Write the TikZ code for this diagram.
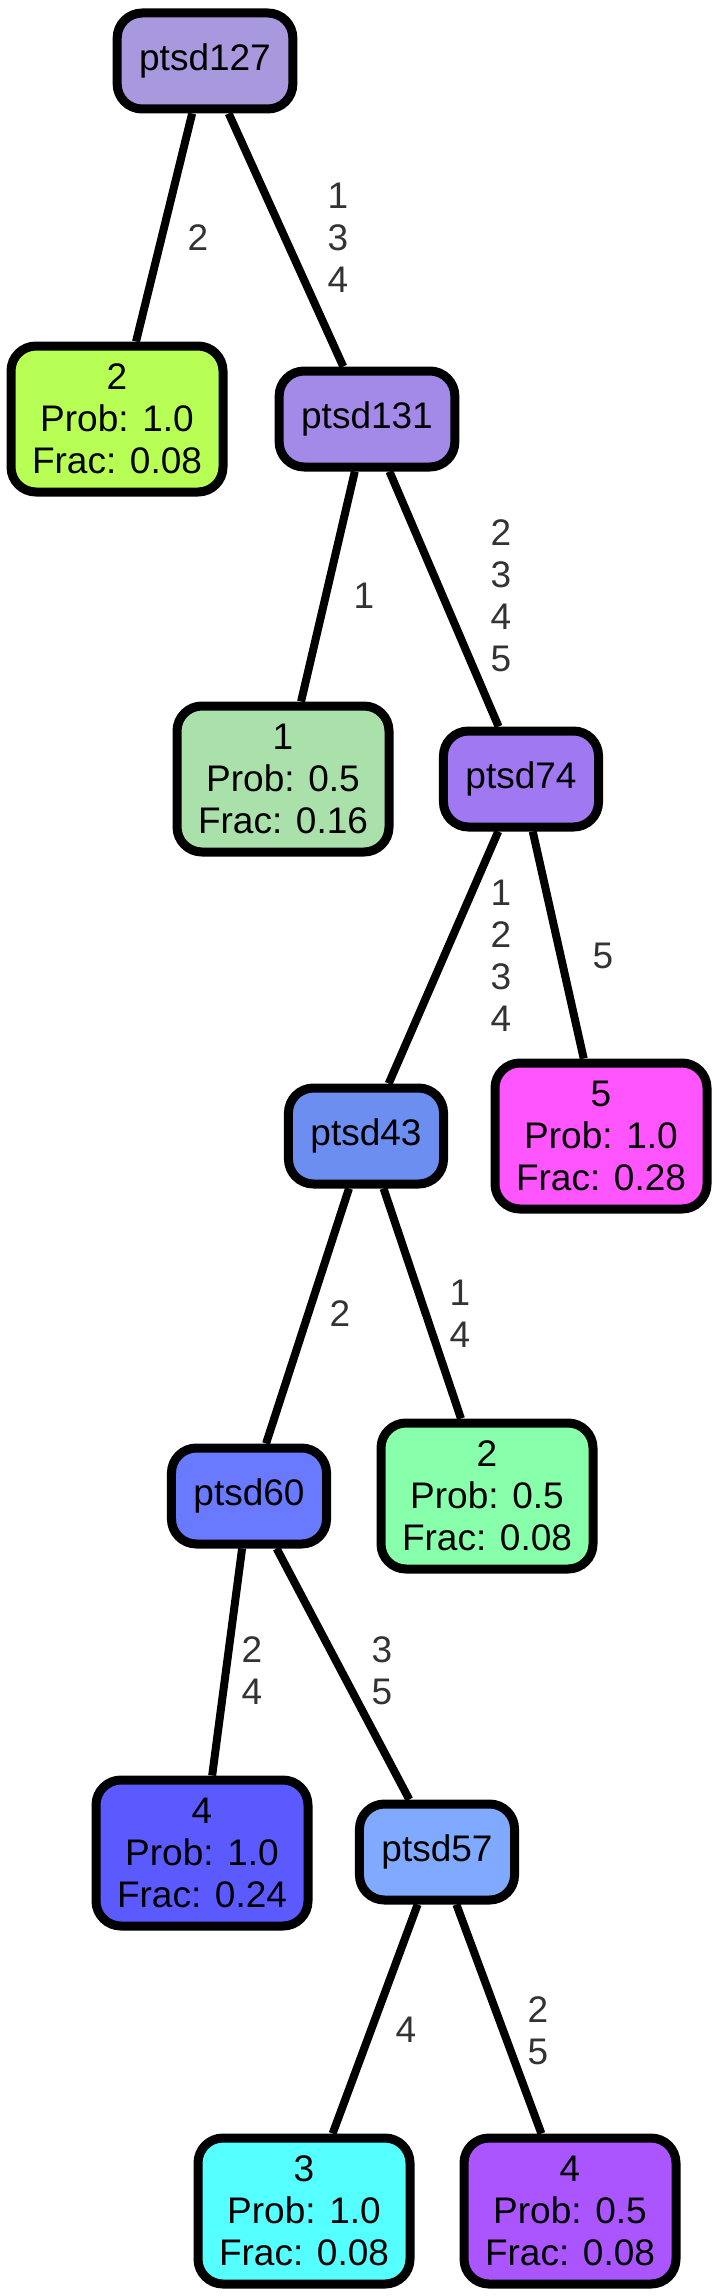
\documentclass[tikz,border=0pt]{standalone}
\usepackage{fontspec}
\setmainfont{Liberation Sans}

\begin{document}
\begin{tikzpicture}[x=1pt, y=-1pt, font=\fontsize{37}{42}\selectfont]
		\tikzstyle{Split} = [rectangle, rounded corners=25pt, minimum height=96pt, inner xsep=22pt, text centered, draw=black, line width=9pt]
		\tikzstyle{Leaf} = [rectangle, rounded corners=25pt, minimum width=212pt, minimum height=146pt, align=center, draw=black, line width=9pt]
		\tikzstyle{branch} = [line width=8pt]
		\tikzstyle{EdgeLabel} = [align=center, text=black!80, inner sep=0pt]
		
		\useasboundingbox (0,0) rectangle (719,2296);
		
		\node (ptsd127Node) [Split, fill={rgb,255:red,168;green,152;blue,222}] at (205,61) {ptsd127};
		\node (leaf2Node) [Leaf, fill={rgb,255:red,184;green,255;blue,85}] at (117,419) {2\\Prob: 1.0\\Frac: 0.08};
		\node (ptsd131Node) [Split, fill={rgb,255:red,164;green,138;blue,232}] at (367,419) {ptsd131};
		\node (leaf1Node) [Leaf, fill={rgb,255:red,170;green,224;blue,170}] at (283,779) {1\\Prob: 0.5\\Frac: 0.16};
		\node (ptsd74Node) [Split, fill={rgb,255:red,160;green,120;blue,242}] at (521,779) {ptsd74};
		\node (ptsd43Node) [Split, fill={rgb,255:red,108;green,142;blue,240}] at (366,1136) {ptsd43};
		\node (leaf5Node) [Leaf, fill={rgb,255:red,255;green,85;blue,255}] at (601,1136) {5\\Prob: 1.0\\Frac: 0.28};
		\node (ptsd60Node) [Split, fill={rgb,255:red,106;green,122;blue,255}] at (249,1496) {ptsd60};
		\node (leaf2bNode) [Leaf, fill={rgb,255:red,136;green,255;blue,170}] at (487,1496) {2\\Prob: 0.5\\Frac: 0.08};
		\node (leaf4Node) [Leaf, fill={rgb,255:red,90;green,90;blue,255}] at (202,1853) {4\\Prob: 1.0\\Frac: 0.24};
		\node (ptsd57Node) [Split, fill={rgb,255:red,128;green,170;blue,255}] at (437,1852) {ptsd57};
		\node (leaf3Node) [Leaf, fill={rgb,255:red,85;green,255;blue,255}] at (304,2211) {3\\Prob: 1.0\\Frac: 0.08};
		\node (leaf4bNode) [Leaf, fill={rgb,255:red,170;green,85;blue,255}] at (570,2211) {4\\Prob: 0.5\\Frac: 0.08};
		
		\draw [branch] (ptsd127Node) -- (leaf2Node);
		\draw [branch] (ptsd127Node) -- (ptsd131Node);
		\draw [branch] (ptsd131Node) -- (leaf1Node);
		\draw [branch] (ptsd131Node) -- (ptsd74Node);
		\draw [branch] (ptsd74Node) -- (ptsd43Node);
		\draw [branch] (ptsd74Node) -- (leaf5Node);
		\draw [branch] (ptsd43Node) -- (ptsd60Node);
		\draw [branch] (ptsd43Node) -- (leaf2bNode);
		\draw [branch] (ptsd60Node) -- (leaf4Node);
		\draw [branch] (ptsd60Node) -- (ptsd57Node);
		\draw [branch] (ptsd57Node) -- (leaf3Node);
		\draw [branch] (ptsd57Node) -- (leaf4bNode);
		
		\node (label127a) [EdgeLabel] at (198,238) {2};
		\node (label127b) [EdgeLabel] at (338,238) {1\\3\\4};
		\node (label131a) [EdgeLabel] at (364,596) {1};
		\node (label131b) [EdgeLabel] at (501,596) {2\\3\\4\\5};
		\node (label74a) [EdgeLabel] at (501,956) {1\\2\\3\\4};
		\node (label74b) [EdgeLabel] at (603,956) {5};
		\node (label43a) [EdgeLabel] at (340,1314) {2};
		\node (label43b) [EdgeLabel] at (460,1314) {1\\4};
		\node (label60a) [EdgeLabel] at (252,1671) {2\\4};
		\node (label60b) [EdgeLabel] at (382,1671) {3\\5};
		\node (label57a) [EdgeLabel] at (406,2030) {4};
		\node (label57b) [EdgeLabel] at (538,2031) {2\\5};
		\end{tikzpicture}
\end{document}
